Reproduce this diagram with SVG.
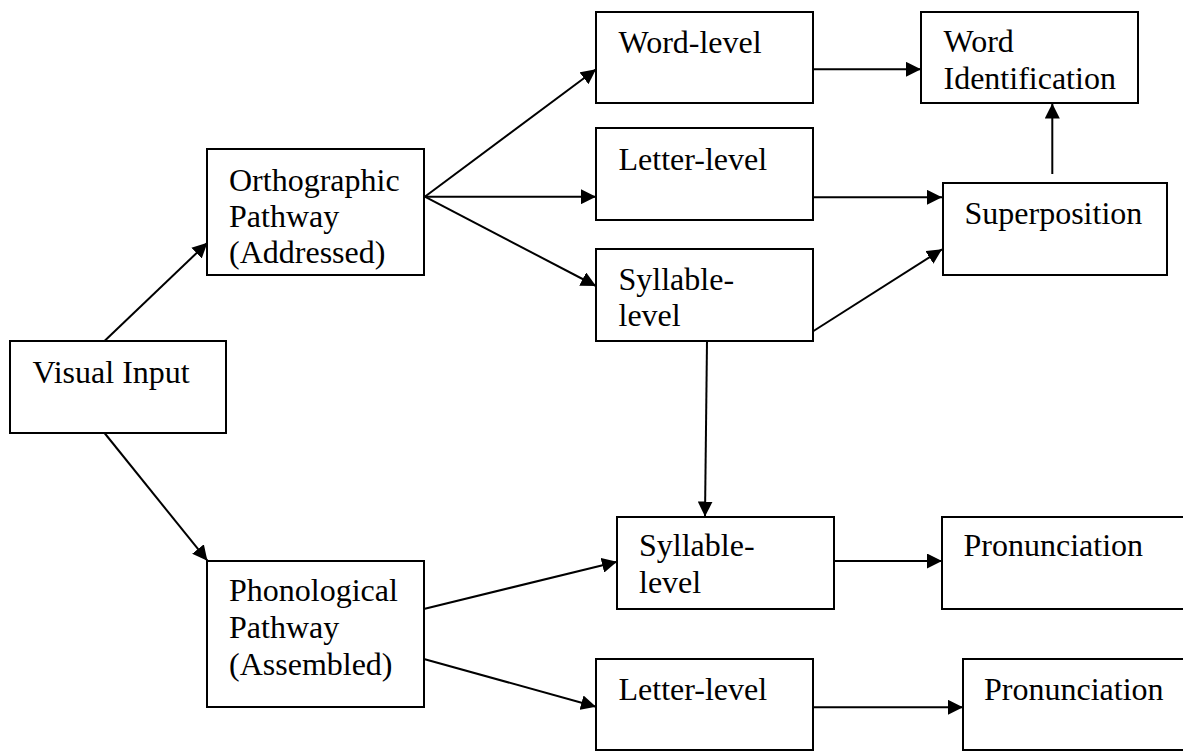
<svg xmlns="http://www.w3.org/2000/svg" width="1183" height="751" viewBox="0 0 1183 751">
  <style>
    .box { fill: #ffffff; stroke: #000000; stroke-width: 2; }
    .lbl { font-family: "Liberation Serif", "Times New Roman", serif; font-size: 32px; fill: #000000; }
    .edge { stroke: #000000; stroke-width: 2; fill: none; marker-end: url(#head); }
  </style>
  <defs>
    <marker id="head" markerUnits="userSpaceOnUse" markerWidth="15" markerHeight="15" refX="15" refY="7.5" orient="auto">
      <path d="M0,0 L15,7.5 L0,15 Z" fill="#000000"/>
    </marker>
  </defs>
  <rect width="1183" height="751" fill="#ffffff"/>

  <g id="visual-input">
    <rect class="box" x="10" y="341" width="216" height="92"/>
    <text class="lbl" x="32.5" y="383">Visual Input</text>
  </g>
  <g id="orthographic">
    <rect class="box" x="207" y="149" width="217" height="126"/>
    <text class="lbl" x="229" y="191">Orthographic</text>
    <text class="lbl" x="229" y="227">Pathway</text>
    <text class="lbl" x="229" y="263">(Addressed)</text>
  </g>
  <g id="phonological">
    <rect class="box" x="207" y="561" width="217" height="146"/>
    <text class="lbl" x="229" y="601">Phonological</text>
    <text class="lbl" x="229" y="638">Pathway</text>
    <text class="lbl" x="229" y="675">(Assembled)</text>
  </g>
  <g id="word-level">
    <rect class="box" x="596" y="12" width="217" height="91"/>
    <text class="lbl" x="618.5" y="52.5">Word-level</text>
  </g>
  <g id="letter-level-orth">
    <rect class="box" x="596" y="128" width="217" height="92"/>
    <text class="lbl" x="618.5" y="169.5">Letter-level</text>
  </g>
  <g id="syllable-level-orth">
    <rect class="box" x="596" y="249" width="217" height="92"/>
    <text class="lbl" x="618.5" y="289.5">Syllable-</text>
    <text class="lbl" x="618.5" y="326">level</text>
  </g>
  <g id="word-identification">
    <rect class="box" x="921" y="12" width="217" height="91"/>
    <text class="lbl" x="943.5" y="51.5">Word</text>
    <text class="lbl" x="943.5" y="88.5">Identification</text>
  </g>
  <g id="superposition">
    <rect class="box" x="943" y="183" width="224" height="92"/>
    <text class="lbl" x="964.5" y="223.5">Superposition</text>
  </g>
  <g id="syllable-level-phon">
    <rect class="box" x="617" y="517" width="217" height="92"/>
    <text class="lbl" x="639" y="556">Syllable-</text>
    <text class="lbl" x="639" y="592.5">level</text>
  </g>
  <g id="pronunciation-syllable">
    <rect class="box" x="942" y="517" width="250" height="92"/>
    <text class="lbl" x="963.5" y="556">Pronunciation</text>
  </g>
  <g id="letter-level-phon">
    <rect class="box" x="596" y="659" width="217" height="91"/>
    <text class="lbl" x="618.5" y="699.5">Letter-level</text>
  </g>
  <g id="pronunciation-letter">
    <rect class="box" x="963" y="659" width="229" height="91"/>
    <text class="lbl" x="984" y="699.5">Pronunciation</text>
  </g>

  <g id="connectors">
    <line class="edge" x1="104.5" y1="341" x2="207.4" y2="242.7"/>
    <line class="edge" x1="104.5" y1="433" x2="207.4" y2="560.7"/>
    <line class="edge" x1="424.8" y1="196.7" x2="596" y2="69.3"/>
    <line class="edge" x1="424.8" y1="196.7" x2="596" y2="196.7"/>
    <line class="edge" x1="424.8" y1="196.7" x2="596" y2="286"/>
    <line class="edge" x1="813" y1="69.3" x2="921" y2="69.3"/>
    <line class="edge" x1="813" y1="197.3" x2="942" y2="197.3"/>
    <line class="edge" x1="813.5" y1="331" x2="942" y2="249.3"/>
    <line class="edge" x1="1052.3" y1="174" x2="1052.3" y2="103.5"/>
    <line class="edge" x1="707" y1="341" x2="705" y2="516.5"/>
    <line class="edge" x1="834" y1="561" x2="942" y2="561"/>
    <line class="edge" x1="424.8" y1="608.7" x2="617" y2="561.7"/>
    <line class="edge" x1="424.8" y1="659.3" x2="596" y2="706.7"/>
    <line class="edge" x1="813" y1="707.3" x2="963" y2="707.3"/>
  </g>
</svg>
